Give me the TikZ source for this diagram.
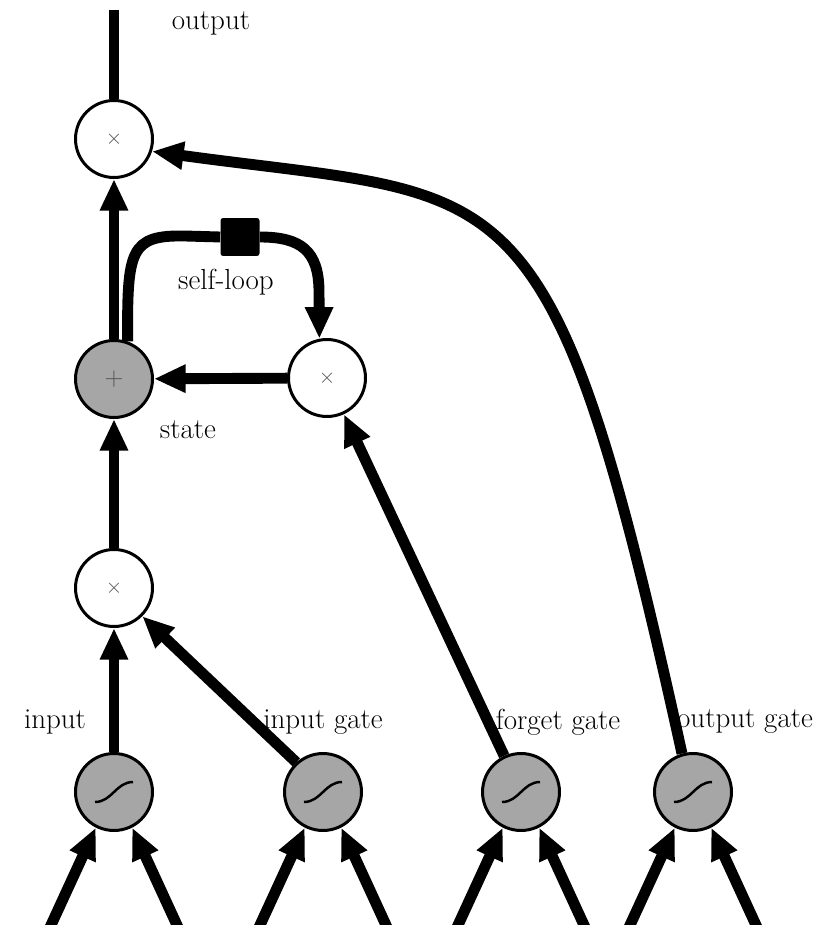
\documentclass[tikz,border=0pt]{standalone}
\usepackage{fontspec}
\usetikzlibrary{arrows.meta}
\definecolor{nodegray}{RGB}{166,166,166}
\definecolor{symgray}{RGB}{85,85,85}
\tikzset{
  opnode/.style={circle, draw=black, line width=1.7pt, fill=white,
    minimum size=1.54cm, inner sep=0pt,
    font=\fontsize{12}{14}\selectfont, text=symgray},
  graynode/.style={opnode, fill=nodegray},
  conn/.style={line width=6.2pt, -{Triangle[length=18pt,width=15pt]}},
  plainconn/.style={line width=6.2pt},
  lbl/.style={inner sep=0pt, font=\fontsize{16.5}{19}\selectfont},
  sigcurve/.style={line width=1.4pt},
  loopbox/.style={rectangle, fill=black, minimum width=0.78cm, minimum height=0.76cm, inner sep=0pt, rounded corners=1.5pt},
}
\begin{document}
\begin{tikzpicture}[x=0.02cm,y=-0.02cm]
\path[use as bounding box, clip] (0,0) rectangle (823,925);

% cell operations
\node[opnode] (out) at (114,139) {$\times$};
\node[graynode, font=\fontsize{15}{18}\selectfont] (state) at (114,379) {$+$};
\node[opnode] (fmul) at (327,378) {$\times$};
\node[opnode] (imul) at (114,588) {$\times$};
\node[loopbox] (sq) at (240,237) {};

% squashing units with their two inputs each
\foreach \n/\cx in {s1/114,s2/323,s3/521,s4/693}{
  \node[graynode] (\n) at (\cx,792) {};
  \draw[sigcurve, shift={(\n.center)}] (-19,10) .. controls (-2,10) and (2,-10) .. (19,-10);
  \coordinate (\n-inl) at (\cx-68,936);
  \coordinate (\n-inr) at (\cx+68,936);
  \draw[conn] (\n-inl) -- (\n.-117);
  \draw[conn] (\n-inr) -- (\n.-63);
}

% labels
\node[lbl] (l-output) at (211,23) {output};
\node[lbl] (l-state) at (188,430) {state};
\node[lbl] (l-self) at (226,282) {self-loop};
\node[lbl] (l-in) at (55,722) {input};
\node[lbl] (l-ig) at (323,722) {input gate};
\node[lbl] (l-fg) at (558,722) {forget gate};
\node[lbl] (l-og) at (745,722) {output gate};

% main flow
\coordinate (otop) at (114,10);
\draw[plainconn] (out.north) -- (otop);
\draw[conn] (state) -- (out);
\draw[conn] (imul) -- (state);
\draw[conn] (s1) -- (imul);
\draw[conn] (fmul) -- (state);
\draw[conn] (s2.132) -- (imul.-45);
\draw[conn] (s3.115) -- (fmul.-65);

% output gate
\draw[conn] (s4.106) .. controls (550,153) and (514,201) .. (out.-18);

% self-loop through the delay box
\draw[plainconn] (state.70) .. controls (127,250) and (130,235) .. (185,236) -- (sq.west);
\draw[conn] (sq.east) .. controls (300,237) and (319,250) .. (319,292) -- (fmul.101);
\end{tikzpicture}
\end{document}
